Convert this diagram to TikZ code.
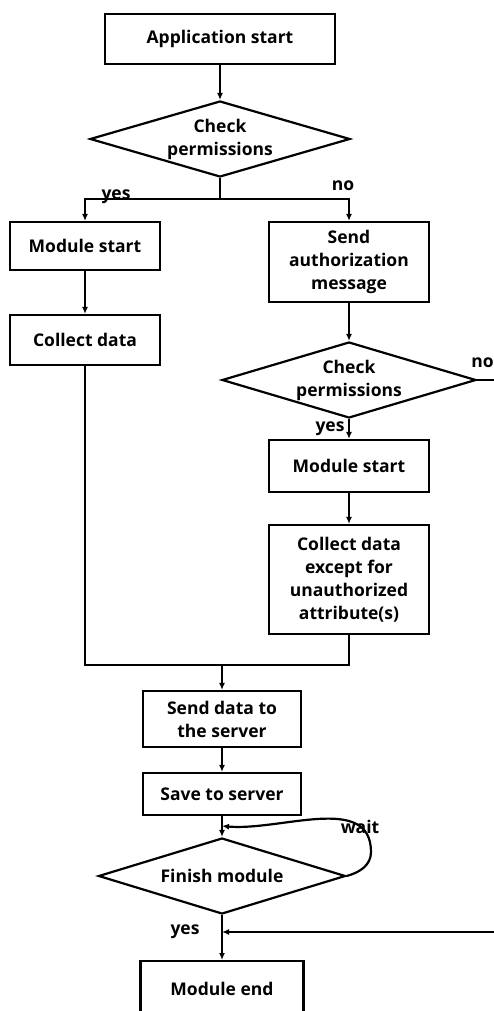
\documentclass[tikz,border=0pt]{standalone}
\usepackage{fontspec}
\setmainfont{Open Sans}
\usetikzlibrary{shapes.geometric,arrows.meta}
\begin{document}
\begin{tikzpicture}[x=1pt,y=-1pt,
  every node/.style={font=\bfseries\fontsize{17.5}{23}\selectfont, align=center},
  box/.style={draw, line width=2.2pt, rectangle, inner sep=0pt},
  decision/.style={draw, line width=2.2pt, diamond, inner sep=0pt},
  arr/.style={line width=2.2pt, -{Latex[length=7pt,width=6pt]}},
  ln/.style={line width=2.2pt},
  lbl/.style={font=\bfseries\fontsize{17.5}{18}\selectfont, inner sep=0pt}]
\useasboundingbox (0,0) rectangle (494,1011);

% process boxes and decisions
\node[box, minimum width=230pt, minimum height=50pt] (app) at (220,39) {Application start};
\node[decision, minimum width=260pt, minimum height=76pt, aspect=3.4] (d1) at (220,139) {Check\\permissions};
\node[box, minimum width=150pt, minimum height=48pt] (ms1) at (85,246) {Module start};
\node[box, minimum width=160pt, minimum height=80pt] (auth) at (349,262) {Send\\authorization\\message};
\node[box, minimum width=150pt, minimum height=50pt] (cd1) at (85,340) {Collect data};
\node[decision, minimum width=254pt, minimum height=76pt, aspect=3.3] (d2) at (349,380) {Check\\permissions};
\node[box, minimum width=160pt, minimum height=52pt] (ms2) at (349,466) {Module start};
\node[box, minimum width=160pt, minimum height=109pt] (cd2) at (349,579.5) {Collect data\\except for\\unauthorized\\attribute(s)};
\node[box, minimum width=158pt, minimum height=56pt] (send) at (222,719) {Send data to\\the server};
\node[box, minimum width=158pt, minimum height=42pt] (save) at (222,794) {Save to server};
\node[decision, minimum width=247pt, minimum height=76pt, aspect=3.25] (d3) at (222,876) {Finish module};
\node[box, minimum width=163pt, minimum height=60pt, anchor=north] (end) at (222,960) {};
\node at (222,989) {Module end};

% junction points
\coordinate (j1) at (220,199);
\coordinate (j2) at (222,665);
\coordinate (r1) at (500,380);
\coordinate (w) at (222,826);
\coordinate (y3) at (222,932);
\coordinate (r2) at (500,932);

% connectors
\draw[arr] (app.south) -- (d1.north);
\draw[ln] (d1.south) -- (j1);
\draw[arr] (j1) -| (ms1.north);
\draw[arr] (j1) -| (auth.north);
\draw[arr] (ms1) -- (cd1);
\draw[arr] (auth) -- (d2.north);
\draw[ln] (d2.east) -- (r1);
\draw[arr] (d2.south) -- (ms2.north);
\draw[arr] (ms2) -- (cd2);
\draw[ln] (cd1.south) |- (j2);
\draw[ln] (cd2.south) |- (j2);
\draw[arr] (j2) -- (send.north);
\draw[arr] (send) -- (save);
\draw[arr] (save.south) -- (d3.north);
\draw[arr] (d3.east) to[out=15,in=-90] (371,852) to[out=90,in=-5] (w);
\draw[arr] (d3.south) -- (end.north);
\draw[arr] (r2) -- (y3);

% branch labels
\node[lbl] at (116,197) {yes};
\node[lbl] at (343,186) {no};
\node[lbl, anchor=east] at (494,363) {no};
\node[lbl] at (330,429) {yes};
\node[lbl] at (360,827) {wait};
\node[lbl] at (185,932) {yes};
\end{tikzpicture}
\end{document}
